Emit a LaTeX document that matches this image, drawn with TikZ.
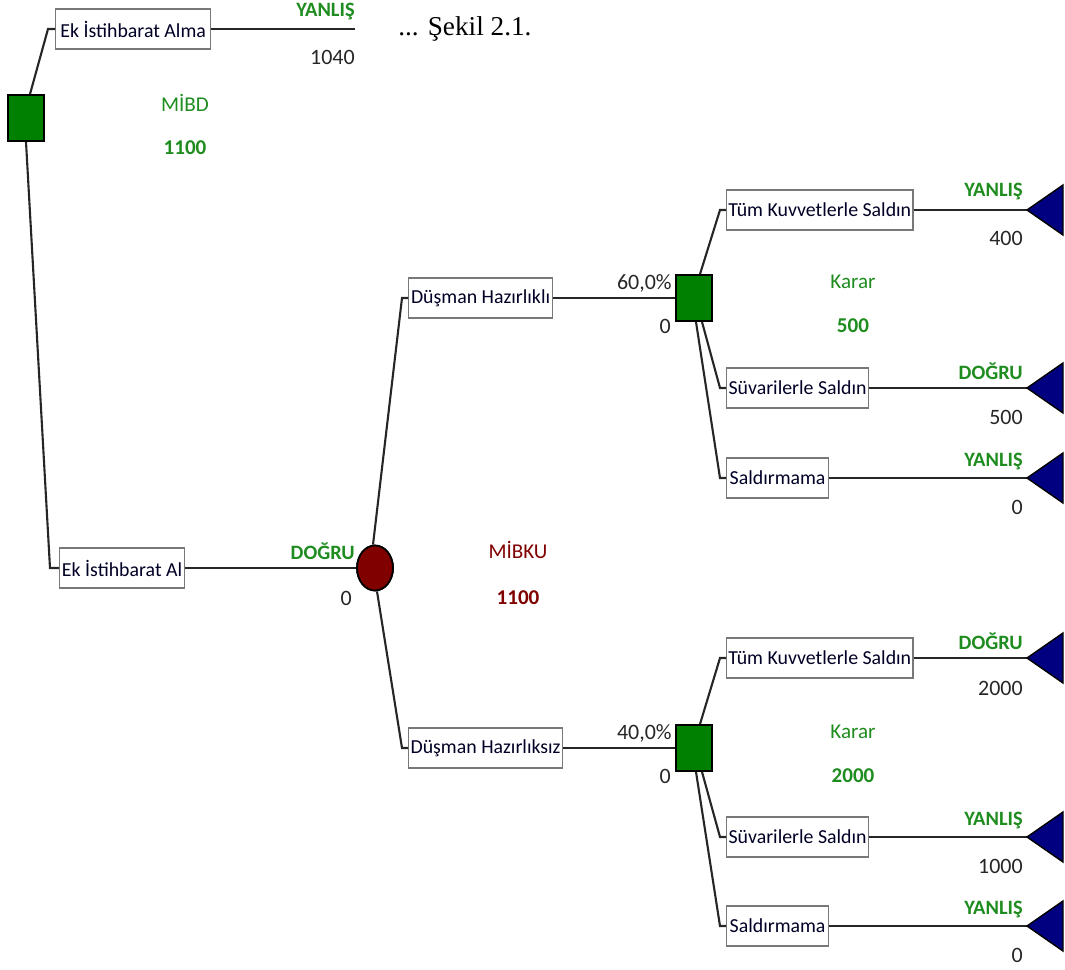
\documentclass[tikz,border=0pt]{standalone}
\usepackage{fontspec}
\setmainfont{Carlito}
\newfontfamily\timesfont{Liberation Serif}
\usetikzlibrary{shapes.geometric,calc}
\definecolor{decgreen}{RGB}{0,128,0}
\definecolor{lblgreen}{RGB}{30,140,30}
\definecolor{chancered}{RGB}{128,0,0}
\definecolor{termblue}{RGB}{0,0,128}
\definecolor{boxgray}{RGB}{120,120,120}
\begin{document}
\begin{tikzpicture}[x=0.02cm,y=-0.02cm,
  conn/.style={draw=black!85,line width=1.2pt},
  optbox/.style={draw=boxgray,fill=white,line width=0.7pt,anchor=west,minimum height=0.8cm,inner xsep=1pt,font=\fontsize{11.3}{13}\selectfont,text=black!85!blue},
  decsq/.style={draw=black,fill=decgreen,line width=1pt,minimum width=0.72cm,minimum height=0.92cm,inner sep=0pt},
  chnode/.style={ellipse,draw=black,fill=chancered,line width=1pt,minimum width=0.72cm,minimum height=0.9cm,inner sep=0pt},
  term/.style={draw=black,fill=termblue,line width=0.8pt},
  lbl/.style={anchor=east,inner sep=0pt,text=lblgreen,font=\fontsize{11.6}{13}\selectfont\bfseries},
  num/.style={anchor=east,inner sep=0pt,text=black!85,font=\fontsize{12.5}{14}\selectfont},
  midtxt/.style={inner sep=0pt,font=\fontsize{12}{14}\selectfont},
  midnum/.style={inner sep=0pt,font=\fontsize{12}{14}\selectfont\bfseries}]
\useasboundingbox (0,0) rectangle (1065,970);

% decision and chance nodes
\node[decsq] (d0) at (26,118) {};
\node[chnode] (c1) at (375,568) {};
\node[decsq] (d1) at (694,298) {};
\node[decsq] (d2) at (694,748) {};

% option boxes
\node[optbox,minimum width=3.10cm] (b1) at (55,29) {Ek İstihbarat Alma};
\node[optbox,minimum width=2.50cm] (b2) at (59,568) {Ek İstihbarat Al};
\node[optbox,minimum width=2.88cm] (b3) at (408,298) {Düşman Hazırlıklı};
\node[optbox,minimum width=3.08cm] (b4) at (408,748) {Düşman Hazırlıksız};
\node[optbox,minimum width=3.72cm] (b5) at (726,210) {Tüm Kuvvetlerle Saldın};
\node[optbox,minimum width=2.84cm] (b6) at (726,388) {Süvarilerle Saldın};
\node[optbox,minimum width=2.04cm] (b7) at (726,478) {Saldırmama};
\node[optbox,minimum width=3.72cm] (b8) at (726,658) {Tüm Kuvvetlerle Saldın};
\node[optbox,minimum width=2.84cm] (b9) at (726,837) {Süvarilerle Saldın};
\node[optbox,minimum width=2.04cm] (b10) at (726,926) {Saldırmama};

% terminal points
\coordinate (e0) at (355,29);
\coordinate (t1) at (1027,210);
\coordinate (t2) at (1027,388);
\coordinate (t3) at (1027,478);
\coordinate (t4) at (1027,658);
\coordinate (t5) at (1027,837);
\coordinate (t6) at (1027,926);

% connectors
\draw[conn] ([xshift=0.08cm]d0.north) -- ($(b1.west)+(-7,0)$) -- (b1.west);
\draw[conn] (d0.south) -- ($(b2.west)+(-9,0)$) -- (b2.west);
\draw[conn] (b1.east) -- (e0);
\draw[conn] (b2.east) -- (c1.west);
\draw[conn] ([xshift=-0.04cm]c1.north) -- ($(b3.west)+(-6,0)$) -- (b3.west);
\draw[conn] ([xshift=0.04cm]c1.south) -- ($(b4.west)+(-6,0)$) -- (b4.west);
\draw[conn] (b3.east) -- (d1.west);
\draw[conn] (b4.east) -- (d2.west);
\draw[conn] ([xshift=0.12cm]d1.north) -- ($(b5.west)+(-6,0)$) -- (b5.west);
\draw[conn] ([xshift=0.16cm]d1.south) -- ($(b6.west)+(-6,0)$) -- (b6.west);
\draw[conn] ([xshift=0.04cm]d1.south) -- ($(b7.west)+(-6,0)$) -- (b7.west);
\draw[conn] ([xshift=0.12cm]d2.north) -- ($(b8.west)+(-6,0)$) -- (b8.west);
\draw[conn] ([xshift=0.16cm]d2.south) -- ($(b9.west)+(-6,0)$) -- (b9.west);
\draw[conn] ([xshift=0.04cm]d2.south) -- ($(b10.west)+(-6,0)$) -- (b10.west);
\draw[conn] (b5.east) -- (t1);
\draw[conn] (b6.east) -- (t2);
\draw[conn] (b7.east) -- (t3);
\draw[conn] (b8.east) -- (t4);
\draw[conn] (b9.east) -- (t5);
\draw[conn] (b10.east) -- (t6);

% terminal triangles
\foreach \t in {t1,t2,t3,t4,t5,t6}
  \draw[term] (\t) -- ++(36,-25) -- ++(0,50) -- cycle;

% redraw nodes on top of connectors
\node[decsq] at (d0) {};
\node[chnode] at (c1) {};
\node[decsq] at (d1) {};
\node[decsq] at (d2) {};

% branch labels
\node[lbl] (l0) at (355,12) {YANLIŞ};
\node[num] (n0) at (355,57) {1040};
\node[lbl] (l1) at (355,551) {DOĞRU};
\node[num] (n1) at (352,598) {0};
\node[num] (p1) at (672,283) {60,0\%};
\node[num] (q1) at (671,326) {0};
\node[num] (p2) at (672,733) {40,0\%};
\node[num] (q2) at (671,776) {0};
\node[lbl] at (1023,192) {YANLIŞ};
\node[num] at (1023,238) {400};
\node[lbl] at (1023,371) {DOĞRU};
\node[num] at (1023,417) {500};
\node[lbl] at (1023,462) {YANLIŞ};
\node[num] at (1023,507) {0};
\node[lbl] at (1023,641) {DOĞRU};
\node[num] at (1023,688) {2000};
\node[lbl] at (1023,821) {YANLIŞ};
\node[num] at (1023,866) {1000};
\node[lbl] at (1023,910) {YANLIŞ};
\node[num] at (1023,955) {0};

% node values
\node[midtxt,text=lblgreen] at (185,103) {MİBD};
\node[midnum,text=lblgreen] at (185,148) {1100};
\node[midtxt,text=chancered] at (518,550) {MİBKU};
\node[midnum,text=chancered] at (518,598) {1100};
\node[midtxt,text=lblgreen] at (853,282) {Karar};
\node[midnum,text=lblgreen] at (853,326) {500};
\node[midtxt,text=lblgreen] at (853,732) {Karar};
\node[midnum,text=lblgreen] at (853,776) {2000};

% caption
\node[anchor=west,inner sep=0pt,font=\timesfont\fontsize{15.5}{17}\selectfont] at (398,29) {... Şekil 2.1.};
\end{tikzpicture}
\end{document}
